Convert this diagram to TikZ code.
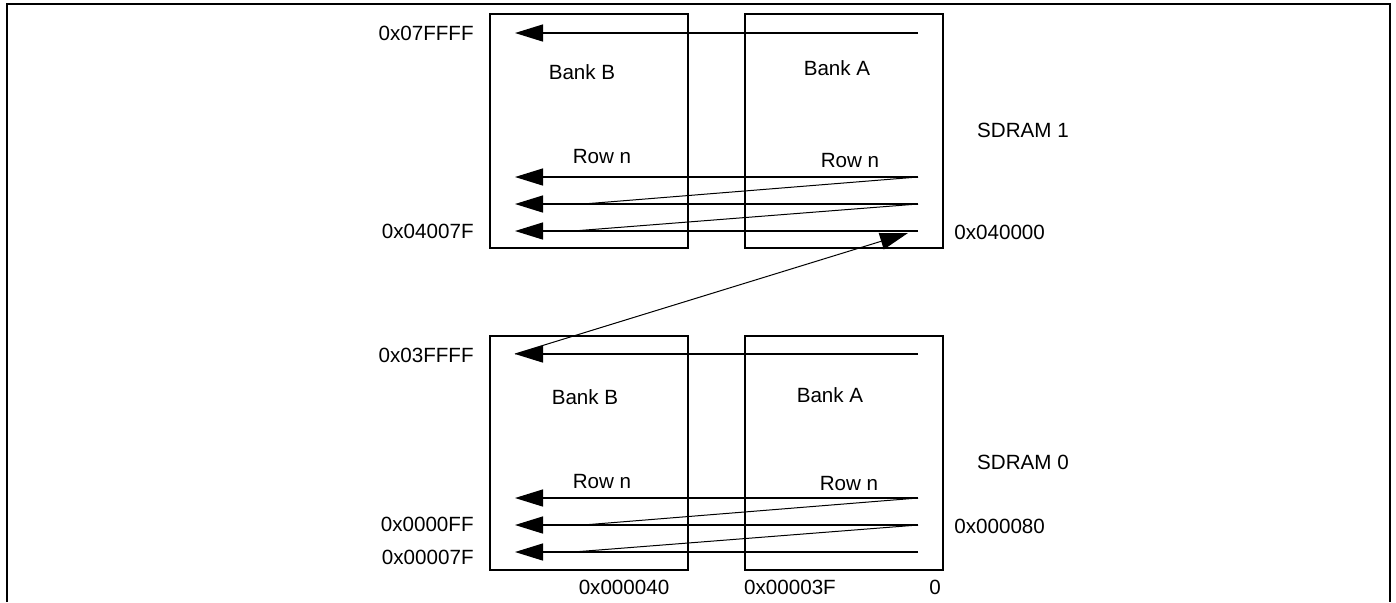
\documentclass[tikz,border=0pt]{standalone}
\usepackage{fontspec}
\setmainfont{Liberation Sans}
\usetikzlibrary{arrows.meta,positioning}
\tikzset{bank/.style={draw,line width=1pt,minimum width=99pt,minimum height=117pt,inner sep=0pt},
 lbl/.style={inner sep=0pt,font=\fontsize{10.3}{12}\selectfont},
 wire/.style={line width=.7pt},
 arr/.style={wire,-{Triangle[length=14pt,width=8.5pt]}},
 slim/.style={line width=.5pt},
 frame/.style={line width=1pt}}
\begin{document}
\begin{tikzpicture}[x=0.5pt,y=-0.5pt]
\useasboundingbox (0,0) rectangle (1396,602);
\draw[frame] (7,602) -- (7,4) -- (1390,4) -- (1390,602);
% banks
\node[bank] (b1) at (589,131) {};
\node[bank] (a1) at (844,131) {};
\node[bank] (b0) at (589,453) {};
\node[bank] (a0) at (844,453) {};
% rows
\foreach \s/\o in {1/0,0/321}{
  \foreach \k/\y in {0/33,1/177,2/204,3/231}{
    \coordinate (s\s-\k) at (918,\y+\o);
    \coordinate (t\s-\k) at (515,\y+\o);
    \draw[arr] (s\s-\k) -- (t\s-\k);
  }
  \coordinate (d\s-2) at (583,204+\o);
  \coordinate (d\s-3) at (573,231+\o);
  \draw[slim] (s\s-1) -- (d\s-2);
  \draw[slim] (s\s-2) -- (d\s-3);
}
\coordinate (j1) at (908,233);
\draw[arr,slim] (t0-0) -- (j1);
% labels
\node[lbl] (nb1) at (582,72) {Bank B};
\node[lbl] (na1) at (837,68) {Bank A};
\node[lbl] (nb0) at (585,397) {Bank B};
\node[lbl] (na0) at (830,395) {Bank A};
\node[lbl] (rb1) at (602,157) {Row n};
\node[lbl] (ra1) at (850,161) {Row n};
\node[lbl] (rb0) at (602,481) {Row n};
\node[lbl] (ra0) at (849,483) {Row n};
\node[lbl] (sd1) at (1023,130) {SDRAM 1};
\node[lbl] (sd0) at (1023,462) {SDRAM 0};
\node[lbl,anchor=east] (h1) at (474,33) {0x07FFFF};
\node[lbl,anchor=east] (l1) at (474,231) {0x04007F};
\node[lbl,anchor=east] (h0) at (474,355) {0x03FFFF};
\node[lbl,anchor=east] (m0) at (474,524) {0x0000FF};
\node[lbl,anchor=east] (l0) at (474,557) {0x00007F};
\node[lbl,anchor=west] (base1) at (954,232) {0x040000};
\node[lbl,anchor=west] (base0) at (954,526) {0x000080};
\node[lbl] (c40) at (624,587) {0x000040};
\node[lbl] (c3f) at (790,587) {0x00003F};
\node[lbl] (c0) at (935,587) {0};
\end{tikzpicture}
\end{document}
